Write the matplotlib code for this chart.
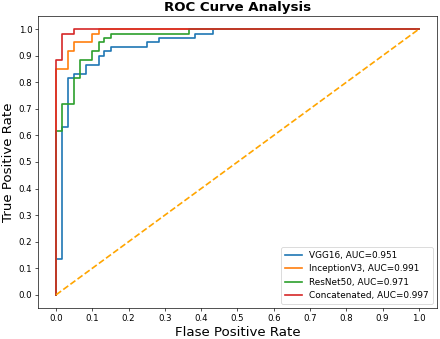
import matplotlib
matplotlib.use("Agg")
import matplotlib.pyplot as plt

# FPR / TPR step points
vgg_fpr = [0, 0, 0.017, 0.017, 0.033, 0.033, 0.05, 0.05, 0.083, 0.083, 0.117, 0.117,
           0.133, 0.133, 0.15, 0.15, 0.25, 0.25, 0.283, 0.283, 0.383, 0.383, 0.433, 0.433, 1.0]
vgg_tpr = [0, 0.133, 0.133, 0.633, 0.633, 0.817, 0.817, 0.833, 0.833, 0.867, 0.867, 0.9,
           0.9, 0.917, 0.917, 0.933, 0.933, 0.95, 0.95, 0.967, 0.967, 0.983, 0.983, 1.0, 1.0]

inc_fpr = [0, 0, 0.033, 0.033, 0.05, 0.05, 0.1, 0.1, 0.117, 0.117, 1.0]
inc_tpr = [0, 0.85, 0.85, 0.917, 0.917, 0.95, 0.95, 0.983, 0.983, 1.0, 1.0]

res_fpr = [0, 0, 0.017, 0.017, 0.05, 0.05, 0.067, 0.067, 0.1, 0.1, 0.117, 0.117,
           0.133, 0.133, 0.15, 0.15, 0.367, 0.367, 1.0]
res_tpr = [0, 0.617, 0.617, 0.717, 0.717, 0.817, 0.817, 0.883, 0.883, 0.917, 0.917, 0.95,
           0.95, 0.967, 0.967, 0.983, 0.983, 1.0, 1.0]

con_fpr = [0, 0, 0.017, 0.017, 0.05, 0.05, 1.0]
con_tpr = [0, 0.883, 0.883, 0.983, 0.983, 1.0, 1.0]

labels = ["VGG16, AUC=0.951", "InceptionV3, AUC=0.991",
          "ResNet50, AUC=0.971", "Concatenated, AUC=0.997"]
ticks = [0.0, 0.1, 0.2, 0.3, 0.4, 0.5, 0.6, 0.7, 0.8, 0.9, 1.0]

fig = plt.figure(figsize=(440 / 60, 339 / 60), dpi=60)
ax = fig.add_axes([0.0864, 0.0914, 0.9066, 0.8616])

ax.plot(vgg_fpr, vgg_tpr, color="#1f77b4", lw=2, label=labels[0])
ax.plot(inc_fpr, inc_tpr, color="#ff7f0e", lw=2, label=labels[1])
ax.plot(res_fpr, res_tpr, color="#2ca02c", lw=2, label=labels[2])
ax.plot(con_fpr, con_tpr, color="#d62728", lw=2, label=labels[3])
ax.plot([0, 1], [0, 1], color="orange", ls="--", lw=2)

ax.set_xticks(ticks)
ax.set_yticks(ticks)
ax.tick_params(labelsize=10.3)
ax.set_xlabel("Flase Positive Rate", fontsize=16)
ax.set_ylabel("True Positive Rate", fontsize=16)
ax.set_title("ROC Curve Analysis", fontsize=16, fontweight="bold")
ax.legend(loc="lower right", fontsize=10.6)

fig.savefig("out.png", dpi=60)
